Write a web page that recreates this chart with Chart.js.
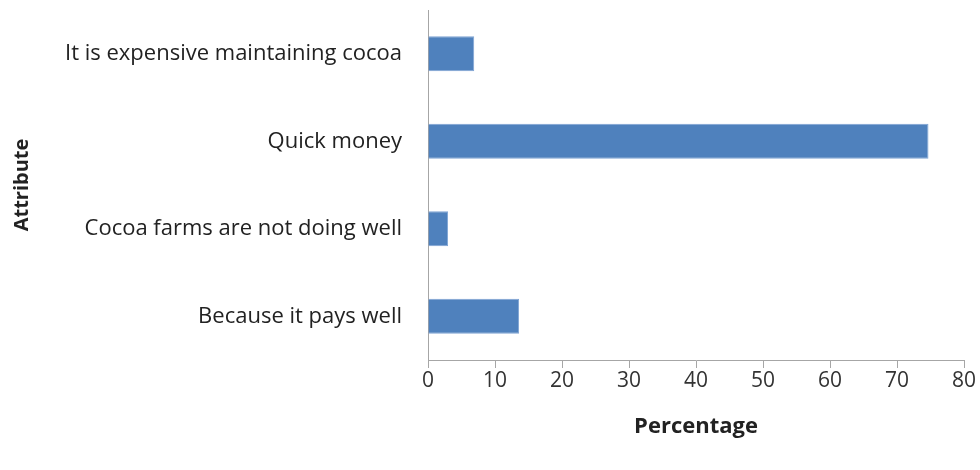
<!DOCTYPE html>
<html>
<head>
<meta charset="utf-8">
<script src="https://cdn.jsdelivr.net/npm/chart.js@4/dist/chart.umd.min.js"></script>
<style>
  html, body { margin: 0; padding: 0; background: #fff; }
  #wrap { width: 980px; height: 470px; }
</style>
</head>
<body>
<div id="wrap"><canvas id="mycanvas" width="980" height="470"></canvas></div>
<script>
var attributes = [
  "It is expensive maintaining cocoa",
  "Quick money",
  "Cocoa farms are not doing well",
  "Because it pays well"
];
var percentages = [6.9, 74.7, 3.0, 13.6];
var xTicks = [0, 10, 20, 30, 40, 50, 60, 70, 80];

var fontFamily = "'Open Sans', Lato, sans-serif";

var ctx = document.getElementById("mycanvas");
var barGraph = new Chart(ctx, {
  type: 'bar',
  data: {
    labels: attributes,
    datasets: [{
      label: 'Percentage',
      data: percentages,
      backgroundColor: '#4f81bd',
      borderColor: '#7ea3d3',
      borderWidth: 1,
      barPercentage: 0.4,
      categoryPercentage: 1.0
    }]
  },
  options: {
    indexAxis: 'y',
    responsive: false,
    animation: false,
    layout: { padding: { top: 10, right: 16, bottom: 0, left: 0 } },
    plugins: {
      legend: { display: false },
      tooltip: { enabled: false }
    },
    scales: {
      x: {
        min: 0,
        max: 80,
        afterBuildTicks: function(scale) {
          scale.ticks = xTicks.map(function(v) { return { value: v }; });
        },
        afterFit: function(scale) { scale.height = 110; },
        grid: {
          display: true,
          drawOnChartArea: false,
          drawTicks: true,
          tickLength: 8,
          color: '#a6a6a6'
        },
        border: { display: true, color: '#a6a6a6', width: 1 },
        ticks: {
          color: '#333333',
          padding: 0,
          font: { family: fontFamily, size: 21 }
        },
        title: {
          display: true,
          text: 'Percentage',
          color: '#222222',
          padding: { top: 10, bottom: 30 },
          font: { family: fontFamily, size: 22, weight: 'bold' }
        }
      },
      y: {
        grid: { display: false, drawTicks: false },
        border: { display: true, color: '#a6a6a6', width: 1 },
        afterFit: function(scale) {
          scale.width = 428;
          // let the plot start right under the top padding
          scale.paddingTop = 0;
          scale.paddingBottom = 0;
        },
        ticks: {
          color: '#222222',
          padding: 26,
          font: { family: fontFamily, size: 22 }
        },
        title: {
          display: true,
          text: 'Attribute',
          color: '#222222',
          padding: { top: 10, bottom: 0 },
          font: { family: fontFamily, size: 20, weight: 'bold' }
        }
      }
    }
  }
});
</script>
</body>
</html>
